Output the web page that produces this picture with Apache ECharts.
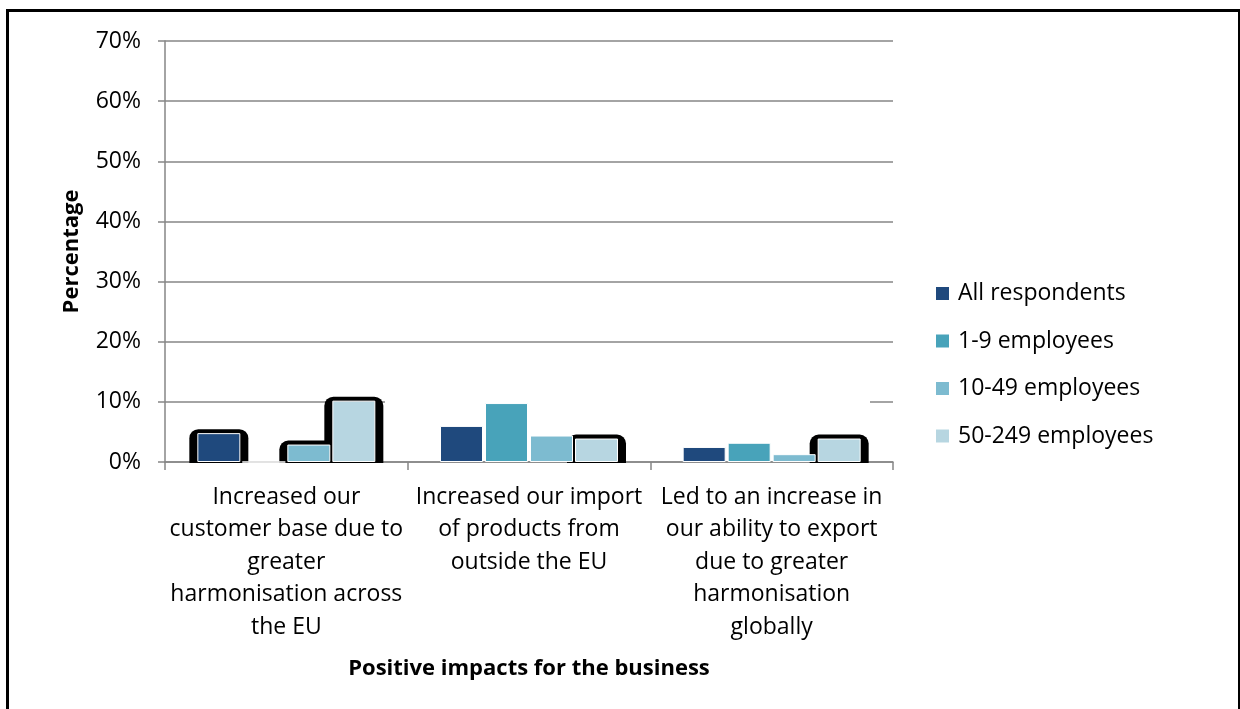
<!DOCTYPE html>
<html>
<head>
<meta charset="utf-8">
<title>Positive impacts for the business</title>
<script src="https://cdn.jsdelivr.net/npm/echarts@6/dist/echarts.min.js"></script>
<style>
  html, body { margin: 0; padding: 0; background: #fff; }
  #chart { width: 1240px; height: 709px; }
  #frame {
    position: absolute; left: 6px; top: 9px; width: 1229px; height: 720px;
    border: 3px solid #000; pointer-events: none;
  }
</style>
</head>
<body>
<div id="chart"></div>
<div id="frame"></div>
<script>
// Category labels (line breaks as printed under the axis)
const categories = [
  'Increased our\ncustomer base due to\ngreater\nharmonisation across\nthe EU',
  'Increased our import\nof products from\noutside the EU',
  'Led to an increase in\nour ability to export\ndue to greater\nharmonisation\nglobally'
];

// Share of businesses (%) per size band
const seriesNames = ['All respondents', '1-9 employees', '10-49 employees', '50-249 employees'];
const allRespondents = [4.8, 6.0, 2.5];
const emp1to9 = [0, 9.8, 3.2];
const emp10to49 = [2.9, 4.4, 1.3];
const emp50to249 = [10.2, 3.9, 3.9];

// Y axis ticks
const yTicks = [0, 10, 20, 30, 40, 50, 60, 70];

// Bars carrying the dark rounded backdrop: [category index, series index]
const highlighted = [[0, 0], [0, 2], [0, 3], [1, 3], [2, 3]];

const colors = ['#1F497D', '#48A3BA', '#7DBBD0', '#B7D6E1'];
const values = [allRespondents, emp1to9, emp10to49, emp50to249];
const FONT = '"Open Sans", Lato, sans-serif';
const BAR_W = 43;
const BAR_GAP = 2;

const chart = echarts.init(document.getElementById('chart'));

const barSeries = seriesNames.map((name, i) => ({
  name,
  type: 'bar',
  data: values[i],
  barWidth: BAR_W,
  barGap: (BAR_GAP / BAR_W * 100) + '%',
  z: 3,
  itemStyle: { color: colors[i], borderColor: '#fff', borderWidth: 1 }
}));

// Dark rounded backdrop drawn behind selected bars
const backdrop = {
  type: 'custom',
  z: 2,
  silent: true,
  data: highlighted.map(([c, s]) => [c, s, values[s][c]]),
  renderItem(params, api) {
    const c = api.value(0), s = api.value(1), v = api.value(2);
    const center = api.coord([c, 0]);
    const top = api.coord([c, v]);
    const total = 4 * BAR_W + 3 * BAR_GAP;
    const left = center[0] - total / 2 + s * (BAR_W + BAR_GAP);
    return {
      type: 'rect',
      shape: { x: left - 8, y: top[1] - 4, width: BAR_W + 16, height: center[1] - top[1] + 5, r: [9, 9, 0, 0] },
      style: { fill: '#000' }
    };
  }
};

chart.setOption({
  animation: false,
  textStyle: { fontFamily: FONT },
  color: colors,
  grid: { left: 165, right: 347, top: 41, bottom: 247 },
  legend: {
    data: seriesNames,
    orient: 'vertical',
    left: 931,
    top: 277,
    icon: 'rect',
    itemWidth: 13,
    itemHeight: 13,
    itemGap: 24.5,
    itemStyle: { borderWidth: 0 },
    textStyle: { fontSize: 23, color: '#000', fontFamily: FONT, padding: [0, 0, 0, 4] }
  },
  xAxis: {
    type: 'category',
    data: categories,
    name: 'Positive impacts for the business',
    nameLocation: 'middle',
    nameGap: 196,
    nameTextStyle: { fontSize: 22, fontWeight: 'bold', color: '#000', fontFamily: FONT },
    axisLine: { lineStyle: { color: '#868686', width: 1.5 } },
    axisTick: { show: true, length: 8, lineStyle: { color: '#868686', width: 1.5 } },
    axisLabel: { interval: 0, fontSize: 23, lineHeight: 32.5, color: '#000', margin: 19, fontFamily: FONT }
  },
  yAxis: {
    type: 'value',
    min: yTicks[0],
    max: yTicks[yTicks.length - 1],
    interval: yTicks[1] - yTicks[0],
    name: 'Percentage',
    nameLocation: 'middle',
    nameGap: 82,
    nameTextStyle: { fontSize: 22, fontWeight: 'bold', color: '#000', fontFamily: FONT },
    axisLine: { show: true, lineStyle: { color: '#868686', width: 1.5 } },
    axisTick: { show: true, length: 7, lineStyle: { color: '#868686', width: 1.5 } },
    splitLine: { lineStyle: { color: '#868686', width: 1.5 } },
    axisLabel: { formatter: '{value}%', fontSize: 23, color: '#000', margin: 24, fontFamily: FONT }
  },
  series: [backdrop, ...barSeries]
});

// Break in the 10% gridline across the middle of the plot
const y10 = chart.convertToPixel({ yAxisIndex: 0 }, 10);
chart.setOption({
  graphic: [{
    type: 'line', z: 1, silent: true,
    shape: { x1: 385, y1: y10, x2: 870, y2: y10 },
    style: { stroke: '#fff', lineWidth: 3 }
  }]
});
</script>
</body>
</html>
